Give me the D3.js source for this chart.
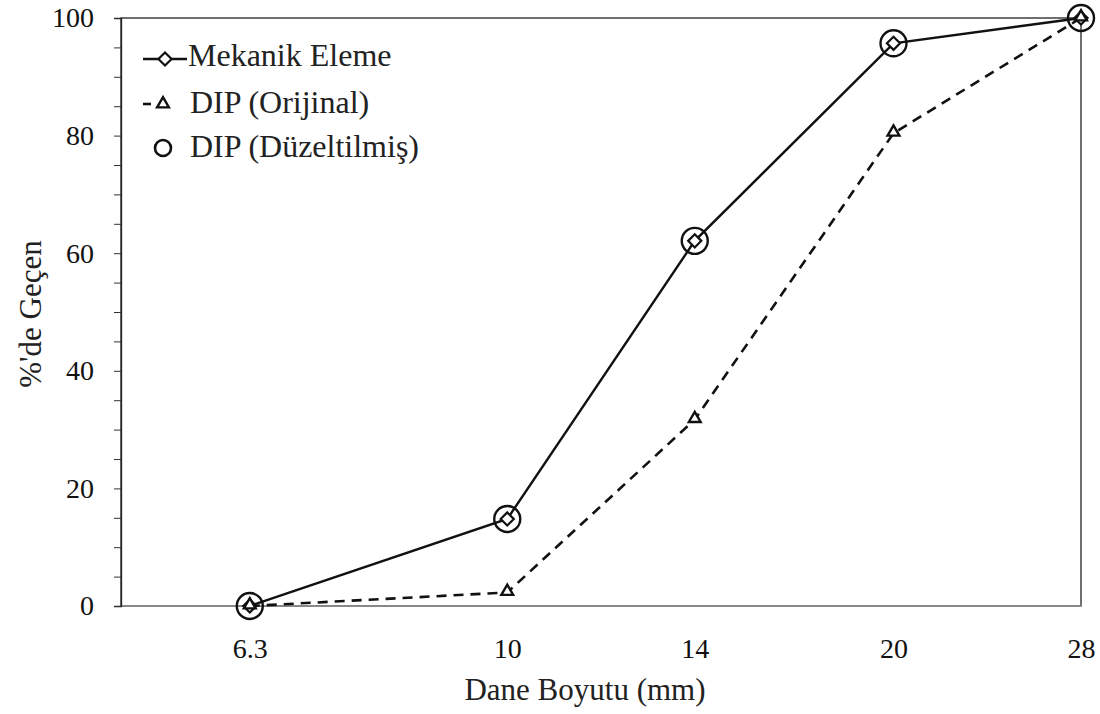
<!DOCTYPE html>
<html>
<head>
    <meta charset="UTF-8">
</head>
<body>
    <script src="https://cdn.jsdelivr.net/npm/d3@7/dist/d3.min.js"></script>
    <script>
        // data
        let sizes = [6.3, 10, 14, 20, 28];
        let mekanik = [0, 14.8, 62.1, 95.7, 100];
        let dipOrijinal = [0, 2.3, 31.7, 80.4, 100];
        let dipDuzeltilmis = [0, 14.8, 62.1, 95.7, 100];
        let yTicks = [0, 20, 40, 60, 80, 100];
        let labels = ["Mekanik Eleme", "DIP (Orijinal)", "DIP (Düzeltilmiş)"];

        let FONT = "'Liberation Serif', 'Times New Roman', serif";
        let W = 1100, H = 714;
        let margin = {top: 18, right: 19, bottom: 108, left: 121};

        d3.select("body").style("margin", "0");

        let svg = d3.select("body").append("svg")
            .attr("width", W)
            .attr("height", H)
            .attr("font-family", FONT);

        // serif text, forced so nothing else overrides it
        function serif(sel, px) {
            sel.attr("font-family", FONT)
                .attr("font-size", px)
                .attr("style", `font-family: ${FONT} !important; font-size: ${px}px`);
        }

        let x = d3.scaleLog()
            .domain([5, 28])
            .range([margin.left, W - margin.right]);

        let y = d3.scaleLinear()
            .domain([0, 100])
            .range([H - margin.bottom, margin.top]);

        // frame
        svg.append("rect")
            .attr("x", margin.left)
            .attr("y", margin.top)
            .attr("width", W - margin.left - margin.right)
            .attr("height", H - margin.top - margin.bottom)
            .attr("fill", "none")
            .attr("stroke", "#222")
            .attr("stroke-width", 1.3);

        // bottom axis line is grey
        svg.append("line")
            .attr("x1", margin.left).attr("x2", W - margin.right)
            .attr("y1", y(0)).attr("y2", y(0))
            .attr("stroke", "#888").attr("stroke-width", 2);

        // y axis, minor ticks every 5
        let yAxis = d3.axisLeft(y)
            .tickValues(d3.range(0, 101, 5))
            .tickSize(7)
            .tickFormat(d => yTicks.includes(d) ? d : "");
        let gy = svg.append("g")
            .attr("transform", `translate(${margin.left},0)`)
            .call(yAxis)
            .attr("font-family", FONT);
        gy.select(".domain").attr("stroke", "#222").attr("stroke-width", 1.3);
        gy.selectAll(".tick line").attr("stroke", "#333");
        gy.selectAll("text")
            .attr("x", -27)
            .attr("fill", "#111")
            .call(serif, 28);

        // x axis labels
        let xAxis = d3.axisBottom(x)
            .tickValues(sizes)
            .tickSize(0)
            .tickFormat(d => d);
        let gx = svg.append("g")
            .attr("transform", `translate(0,${y(0)})`)
            .call(xAxis)
            .attr("font-family", FONT);
        gx.select(".domain").remove();
        gx.selectAll("text")
            .attr("y", 32)
            .attr("fill", "#111")
            .call(serif, 28);

        // axis titles
        svg.append("text")
            .attr("x", 585)
            .attr("y", 700)
            .attr("text-anchor", "middle")
            .attr("fill", "#222")
            .call(serif, 31)
            .text("Dane Boyutu (mm)");

        svg.append("text")
            .attr("transform", "translate(41,314) rotate(-90)")
            .attr("text-anchor", "middle")
            .attr("fill", "#222")
            .call(serif, 31)
            .text("%'de Geçen");

        // lines
        let line = d3.line()
            .x((d, i) => x(sizes[i]))
            .y(d => y(d));

        svg.append("path")
            .datum(dipOrijinal)
            .attr("d", line)
            .attr("fill", "none")
            .attr("stroke", "#111")
            .attr("stroke-width", 2.6)
            .attr("stroke-dasharray", "10,7");

        svg.append("path")
            .datum(mekanik)
            .attr("d", line)
            .attr("fill", "none")
            .attr("stroke", "#111")
            .attr("stroke-width", 2.4);

        let diamond = d3.symbol().type(d3.symbolDiamond2).size(110);
        let triangle = d3.symbol().type(d3.symbolTriangle2).size(100);

        // diamonds
        svg.selectAll(".diam")
            .data(mekanik)
            .enter().append("path")
            .attr("class", "diam")
            .attr("d", diamond)
            .attr("transform", (d, i) => `translate(${x(sizes[i])},${y(d)})`)
            .attr("fill", "#fff")
            .attr("stroke", "#111")
            .attr("stroke-width", 2.2);

        // triangles
        svg.selectAll(".tri")
            .data(dipOrijinal)
            .enter().append("path")
            .attr("class", "tri")
            .attr("d", triangle)
            .attr("transform", (d, i) => `translate(${x(sizes[i])},${y(d) - 1})`)
            .attr("fill", "#fff")
            .attr("stroke", "#111")
            .attr("stroke-width", 2.4);

        // circles
        svg.selectAll(".circ")
            .data(dipDuzeltilmis)
            .enter().append("circle")
            .attr("class", "circ")
            .attr("cx", (d, i) => x(sizes[i]))
            .attr("cy", d => y(d))
            .attr("r", 13)
            .attr("fill", "none")
            .attr("stroke", "#111")
            .attr("stroke-width", 2.4);

        // legend
        let lg = svg.append("g");
        let lx = 143, ly = [59, 104, 148];

        lg.append("line")
            .attr("x1", lx).attr("x2", lx + 44)
            .attr("y1", ly[0]).attr("y2", ly[0])
            .attr("stroke", "#111").attr("stroke-width", 2.4);
        lg.append("path")
            .attr("d", diamond)
            .attr("transform", `translate(${lx + 22},${ly[0]})`)
            .attr("fill", "#fff").attr("stroke", "#111").attr("stroke-width", 2.2);

        lg.append("line")
            .attr("x1", lx).attr("x2", lx + 8)
            .attr("y1", ly[1]).attr("y2", ly[1])
            .attr("stroke", "#111").attr("stroke-width", 2.6);
        lg.append("path")
            .attr("d", triangle)
            .attr("transform", `translate(${lx + 20},${ly[1]})`)
            .attr("fill", "#fff").attr("stroke", "#111").attr("stroke-width", 2.4);

        lg.append("circle")
            .attr("cx", lx + 20).attr("cy", ly[2])
            .attr("r", 8)
            .attr("fill", "none").attr("stroke", "#111").attr("stroke-width", 2.6);

        lg.selectAll(".lt")
            .data(labels)
            .enter().append("text")
            .attr("class", "lt")
            .attr("x", (d, i) => i == 0 ? lx + 45 : lx + 47)
            .attr("y", (d, i) => ly[i] + 7 + (i == 0 ? 0 : 2))
            .attr("fill", "#222")
            .call(serif, 32)
            .text(d => d);
    </script>
</body>
</html>
